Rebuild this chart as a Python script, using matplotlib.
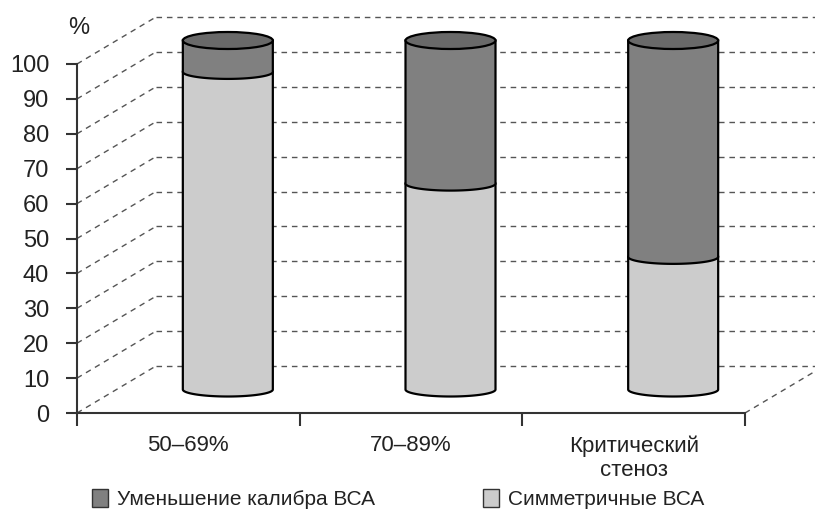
import matplotlib
matplotlib.use('Agg')
import matplotlib.pyplot as plt
from matplotlib.patches import Polygon, Ellipse, Patch
import numpy as np

# data
categories = ['50–69%', '70–89%', 'Критический\nстеноз']
symmetric = [91, 59, 38]      # Симметричные ВСА
reduced = [9, 41, 62]         # Уменьшение калибра ВСА
yticks = list(range(0, 101, 10))

light = '#cccccc'
dark = '#808080'
top_col = '#696969'
grid_col = '#555555'

plt.rcParams['font.family'] = ['Liberation Sans', 'DejaVu Sans']

W, H = 815, 512
fig = plt.figure(figsize=(W / 100, H / 100), dpi=100)

# axes: front floor from x=77px to 745px, value 0 at y=413px, 100 at 64px
px_x = (745 - 77) / 3.0
px_y = (413 - 64) / 100.0
ax = fig.add_axes([77 / W, (H - 413) / H, (W - 77) / W, 413 / H])
ax.set_xlim(-0.5, -0.5 + (W - 77) / px_x)
ax.set_ylim(0, 413 / px_y)

# 3d depth offset (in data units)
ddx = 79 / px_x
ddy = 47 / px_y

# back wall: diagonal + horizontal dashed lines
dash = (0, (4, 3.5))
for v in yticks:
    ax.plot([-0.5, -0.5 + ddx], [v, v + ddy], color=grid_col, lw=1.0,
            ls=dash, zorder=1)
    ax.plot([-0.5 + ddx, 10], [v + ddy, v + ddy], color=grid_col, lw=1.0,
            ls=dash, zorder=1)
ax.plot([2.5, 2.5 + ddx], [0, ddy], color=grid_col, lw=1.0, ls=dash, zorder=1)

# cylinders
hw = 45 / px_x
hh = 7 / px_y          # arcs of bottom / boundary
hh_top = 8.5 / px_y    # top lid looks a bit rounder
t = np.linspace(np.pi, 2 * np.pi, 60)


def segment(cx, y0, y1, color, z):
    xs = np.concatenate([[cx - hw], cx + hw * np.cos(t), [cx + hw]])
    ys = np.concatenate([[y1], y0 + hh * np.sin(t), [y1]])
    ax.add_patch(Polygon(np.column_stack([xs, ys]), closed=True, fc=color,
                         ec='black', lw=1.6, zorder=z))


for i in range(len(categories)):
    cx = i + ddx / 2
    base = ddy / 2
    segment(cx, base, base + symmetric[i], light, 3)
    segment(cx, base + symmetric[i], base + symmetric[i] + reduced[i], dark, 4)
    ax.add_patch(Ellipse((cx, base + symmetric[i] + reduced[i]), 2 * hw,
                         2 * hh_top, fc=top_col, ec='black', lw=1.6, zorder=5))

# axes styling
for s in ['top', 'right']:
    ax.spines[s].set_visible(False)
ax.spines['left'].set_bounds(0, 100)
ax.spines['bottom'].set_bounds(-0.5, 2.5)
for s in ['left', 'bottom']:
    ax.spines[s].set_linewidth(1.5)
    ax.spines[s].set_color('#333333')

ax.set_yticks(yticks)
ax.set_yticklabels([str(v) for v in yticks], fontsize=17, color='#222222')
ax.tick_params(axis='y', length=8, width=1.5, pad=12, color='#333333')

ax.set_xticks([-0.5, 0.5, 1.5, 2.5])
ax.set_xticklabels([])
ax.tick_params(axis='x', which='major', length=9, width=1.5, color='#333333')
ax.set_xticks(range(len(categories)), minor=True)
ax.set_xticklabels(categories, minor=True, fontsize=16, color='#222222',
                   linespacing=1.2)
ax.tick_params(axis='x', which='minor', length=0, pad=16)

fig.text(79 / W, 1 - 28 / H, '%', ha='center', va='center', fontsize=17,
         color='#222222')

handles = [Patch(fc=dark, ec='#333333', lw=1.0),
           Patch(fc=light, ec='#333333', lw=1.0)]
fig.legend(handles, ['Уменьшение калибра ВСА', 'Симметричные ВСА'],
           loc='center left', bbox_to_anchor=(92 / W, 1 - 499 / H), ncol=2,
           frameon=False, fontsize=15, handlelength=0.75, handleheight=1.0,
           handletextpad=0.45, columnspacing=5.2, labelcolor='#222222',
           borderpad=0.0, borderaxespad=0.0)

fig.savefig('out.png', dpi=100)
